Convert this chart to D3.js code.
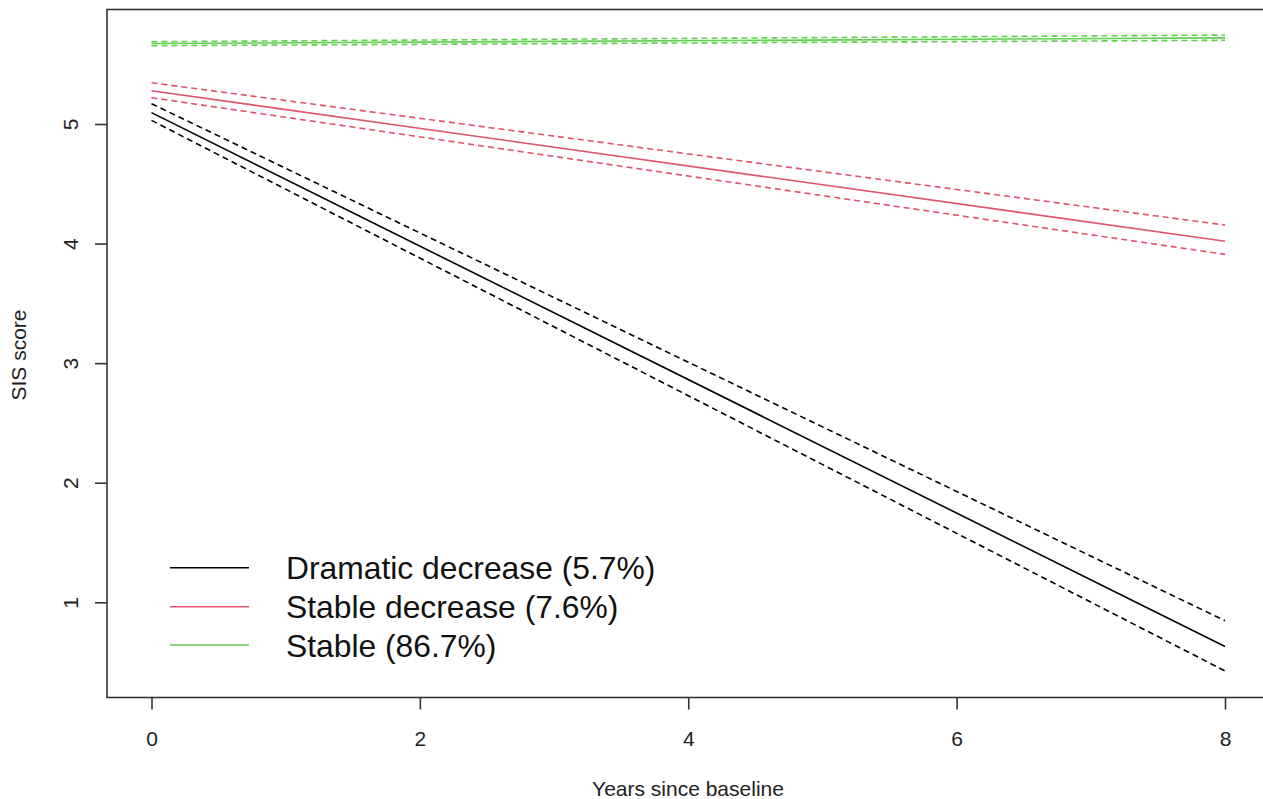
<!DOCTYPE html>
<html>
<head>
<meta charset="utf-8">
<script src="https://cdn.jsdelivr.net/npm/d3@7"></script>
<style>
  html, body { margin: 0; padding: 0; background: #fff; }
  svg { display: block; font-family: "Liberation Sans", Arial, sans-serif; }
</style>
</head>
<body>
<svg id="chart" width="1263" height="799"></svg>
<script>
// ---- data ----
const years = [0, 8];
const seriesNames = ["Dramatic decrease (5.7%)", "Stable decrease (7.6%)", "Stable (86.7%)"];
const seriesColors = ["#000000", "#DF536B", "#61D04F"];
const dramaticFit   = [5.095, 0.63];
const dramaticUpper = [5.17, 0.846];
const dramaticLower = [5.03, 0.426];
const stableDecFit   = [5.278, 4.02];
const stableDecUpper = [5.345, 4.155];
const stableDecLower = [5.22, 3.91];
const stableFit   = [5.673, 5.72];
const stableUpper = [5.688, 5.744];
const stableLower = [5.655, 5.70];
const xTicks = [0, 2, 4, 6, 8];
const yTicks = [1, 2, 3, 4, 5];

// ---- layout ----
const svg = d3.select("#chart");
const box = { left: 107, top: 9.5, right: 1275, bottom: 697.5 };
const x = d3.scaleLinear().domain([0, 8]).range([151.5, 1225]);
const y = d3.scaleLinear().domain([1, 5]).range([602.3, 124]);
const axisColor = "#333";
const fontAxis = 21;

const groups = [
  { fit: dramaticFit, up: dramaticUpper, lo: dramaticLower, color: seriesColors[0] },
  { fit: stableDecFit, up: stableDecUpper, lo: stableDecLower, color: seriesColors[1] },
  { fit: stableFit, up: stableUpper, lo: stableLower, color: seriesColors[2] }
];

const line = d3.line().x(d => x(d[0])).y(d => y(d[1]));
const pts = arr => years.map((t, i) => [t, arr[i]]);

groups.forEach(g => {
  [g.up, g.lo].forEach(arr => {
    svg.append("path").attr("d", line(pts(arr)))
      .attr("fill", "none").attr("stroke", g.color)
      .attr("stroke-width", 1.6).attr("stroke-dasharray", "6,4");
  });
  svg.append("path").attr("d", line(pts(g.fit)))
    .attr("fill", "none").attr("stroke", g.color).attr("stroke-width", 1.6);
});

// box
svg.append("rect")
  .attr("x", box.left).attr("y", box.top)
  .attr("width", box.right - box.left).attr("height", box.bottom - box.top)
  .attr("fill", "none").attr("stroke", axisColor).attr("stroke-width", 1.6);

// x axis
const xAxis = d3.axisBottom(x).tickValues(xTicks).tickFormat(d3.format("d"))
  .tickSize(12).tickPadding(22);
const gx = svg.append("g").attr("transform", `translate(0,${box.bottom})`).call(xAxis);
gx.select(".domain").remove();
gx.selectAll(".tick line").attr("stroke", axisColor).attr("stroke-width", 1.6);
gx.selectAll(".tick text").attr("font-size", fontAxis).attr("fill", "#222")
  .attr("font-family", "Liberation Sans, Arial, sans-serif");

// y axis
const yAxis = d3.axisLeft(y).tickValues(yTicks).tickFormat(d3.format("d"))
  .tickSize(12).tickPadding(17);
const gy = svg.append("g").attr("transform", `translate(${box.left},0)`).call(yAxis);
gy.select(".domain").remove();
gy.selectAll(".tick line").attr("stroke", axisColor).attr("stroke-width", 1.6);
gy.selectAll(".tick text").attr("font-size", fontAxis).attr("fill", "#222")
  .attr("font-family", "Liberation Sans, Arial, sans-serif")
  .attr("text-anchor", "middle").attr("dy", 0).attr("x", 0)
  .attr("transform", "translate(-29,0) rotate(-90)");

// axis titles
svg.append("text").attr("x", 688).attr("y", 796)
  .attr("text-anchor", "middle").attr("font-size", fontAxis).attr("fill", "#222")
  .text("Years since baseline");
svg.append("text")
  .attr("transform", `translate(26,${355}) rotate(-90)`)
  .attr("text-anchor", "middle").attr("font-size", fontAxis).attr("fill", "#222")
  .text("SIS score");

// legend
const legendY = [567.7, 606.7, 645];
const lg = svg.append("g");
seriesNames.forEach((name, i) => {
  lg.append("line").attr("x1", 170).attr("x2", 249)
    .attr("y1", legendY[i]).attr("y2", legendY[i])
    .attr("stroke", seriesColors[i]).attr("stroke-width", 1.6);
  lg.append("text").attr("x", 286).attr("y", legendY[i] + 11.5)
    .attr("font-size", 31.8).attr("fill", "#111").text(name);
});
</script>
</body>
</html>
